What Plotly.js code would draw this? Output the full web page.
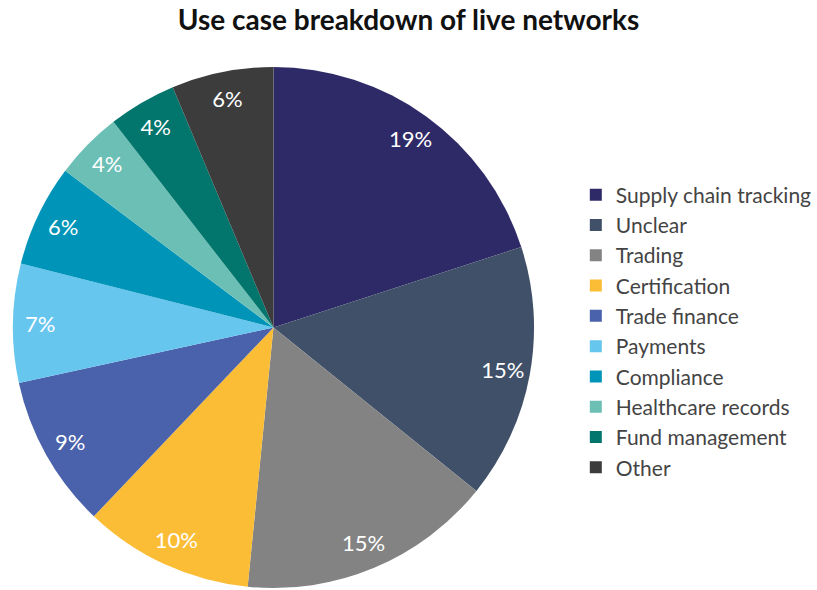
<!DOCTYPE html>
<html>
<head>
<meta charset="utf-8">
<script src="https://cdn.plot.ly/plotly-3.0.1.min.js"></script>
<style>html,body{margin:0;padding:0;background:#fff;}#chart{width:817px;height:590px;}</style>
</head>
<body>
<div id="chart"></div>
<script>
const categories = ["Supply chain tracking","Unclear","Trading","Certification","Trade finance","Payments","Compliance","Healthcare records","Fund management","Other"];
const shares = [19,15,15,10,9,7,6,4,4,6];
const colors = ["#2e2a67","#3f5068","#838383","#fbbd35","#4a61ab","#66c6ee","#0095b8","#6bbfb5","#02756d","#3c3c3c"];

const dom = {x: [0.0159, 0.6585], y: [0, 1]};

const pieTrace = {
  type: "pie",
  labels: categories,
  values: shares,
  sort: false,
  direction: "clockwise",
  rotation: 0,
  marker: {colors: colors, line: {width: 0}},
  textinfo: "none",
  hoverinfo: "label+value",
  domain: dom
};

const labelTrace = {
  type: "pie",
  labels: categories,
  values: shares,
  sort: false,
  direction: "clockwise",
  rotation: 0,
  hole: 0.79,
  showlegend: false,
  marker: {colors: categories.map(() => "rgba(0,0,0,0)"), line: {width: 0}},
  texttemplate: "%{value}%",
  textposition: "inside",
  insidetextorientation: "horizontal",
  textfont: {color: "#ffffff", size: 22, family: "Lato, sans-serif"},
  hoverinfo: "skip",
  domain: dom
};

const layout = {
  width: 817,
  height: 590,
  margin: {l: 0, r: 0, t: 65, b: 0},
  paper_bgcolor: "#ffffff",
  title: {text: "<b>Use case breakdown of live networks</b>", x: 0.5, xanchor: "center", y: 0.965, yanchor: "middle", font: {family: "Lato, sans-serif", size: 28, color: "#111111"}},
  showlegend: true,
  legend: {x: 0.710, xanchor: "left", y: 0.4924, yanchor: "middle", font: {family: "Lato, sans-serif", size: 21, color: "#444444"}, tracegroupgap: 0},
  font: {family: "Lato, sans-serif"}
};

Plotly.newPlot("chart", [pieTrace, labelTrace], layout, {displayModeBar: false});
</script>
</body>
</html>
